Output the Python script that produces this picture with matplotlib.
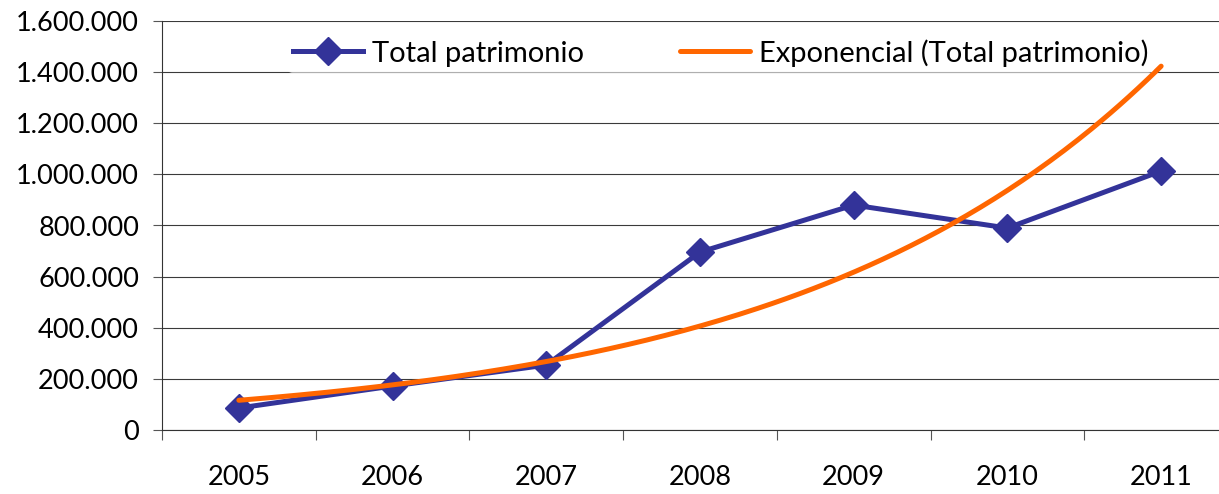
import matplotlib.pyplot as plt
import numpy as np
from matplotlib.ticker import FuncFormatter

plt.rcParams["font.family"] = ["Lato", "DejaVu Sans"]

BLUE = "#333399"
ORANGE = "#FF6600"

years = ["2005", "2006", "2007", "2008", "2009", "2010", "2011"]
total_patrimonio = [86000, 172000, 254000, 696000, 880000, 790000, 1013000]

y_ticks = [0, 200000, 400000, 600000, 800000, 1000000, 1200000, 1400000, 1600000]


def thousands(v, pos):
    return f"{int(v):,}".replace(",", ".")


def main():
    x = np.arange(len(years))
    y = np.array(total_patrimonio, dtype=float)

    # exponential trendline, fitted like Excel does (least squares on ln y)
    b, a = np.polyfit(x + 1, np.log(y), 1)
    xt = np.linspace(0, len(years) - 1, 200)
    yt = np.exp(a + b * (xt + 1))

    fig = plt.figure(figsize=(12.19, 4.94), dpi=100)
    ax = fig.add_axes([162 / 1219, 64 / 494, 1076 / 1219, 409 / 494])

    ax.plot(x, y, color=BLUE, linewidth=3.6, marker="D", markersize=14.5,
            label="Total patrimonio", zorder=3)
    ax.plot(xt, yt, color=ORANGE, linewidth=3.6, label="Exponencial (Total patrimonio)",
            zorder=4, solid_capstyle="round")

    ax.set_xlim(-0.5, len(years) - 0.5)
    ax.set_ylim(0, 1600000)
    ax.set_yticks(y_ticks)
    ax.yaxis.set_major_formatter(FuncFormatter(thousands))
    ax.grid(True, axis="y", color="#3a3a3a", linewidth=0.8)
    ax.set_axisbelow(True)

    ax.set_xticks(x)
    ax.set_xticklabels(years)
    ax.set_xticks(np.arange(-0.5, len(years) + 0.5, 1), minor=True)
    ax.tick_params(axis="x", which="major", length=0, pad=25, labelsize=19.5)
    ax.tick_params(axis="x", which="minor", length=7, width=0.8, color="#555555")
    ax.tick_params(axis="y", length=6.5, width=0.8, pad=10, labelsize=19.5, color="#555555")

    for side in ["top", "right"]:
        ax.spines[side].set_visible(False)
    for side in ["left", "bottom"]:
        ax.spines[side].set_color("#333333")
        ax.spines[side].set_linewidth(0.8)

    leg = ax.legend(loc="center", bbox_to_anchor=(0.519, 0.922), ncol=2,
                    fontsize=21, frameon=True, framealpha=0.6, edgecolor="none",
                    handlelength=2.4, handletextpad=0.3, columnspacing=3.3,
                    borderpad=0.2)
    leg.get_frame().set_linewidth(0)

    fig.savefig("out.png", dpi=100, facecolor="white")
    plt.close(fig)


if __name__ == "__main__":
    main()
